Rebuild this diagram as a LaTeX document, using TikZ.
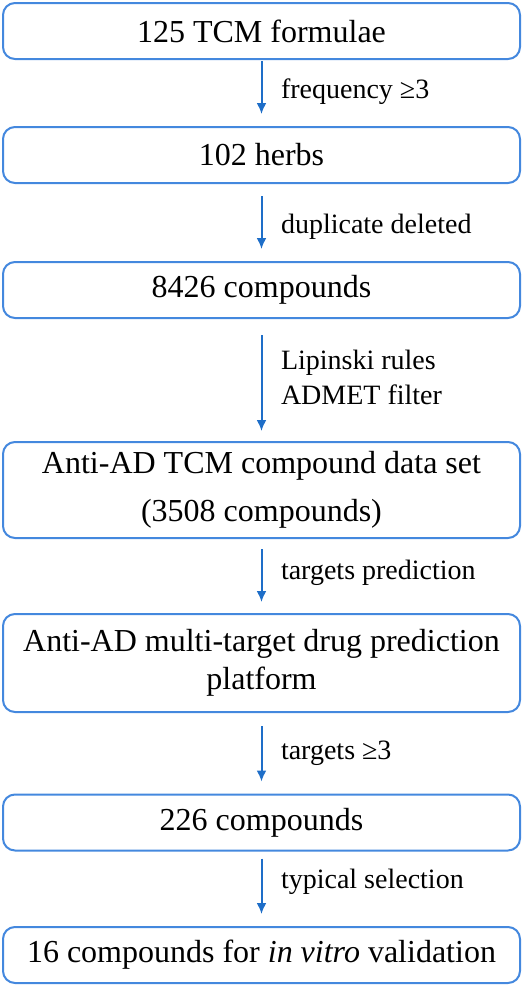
\documentclass[tikz,border=0pt]{standalone}
\usepackage{fontspec}
\setmainfont{LiberationSerif-Regular.ttf}[ItalicFont=LiberationSerif-Italic.ttf,
 BoldFont=LiberationSerif-Bold.ttf]
\usetikzlibrary{arrows.meta}
\definecolor{boxblue}{RGB}{68,136,222}
\definecolor{arrowblue}{RGB}{30,110,200}
\begin{document}
\begin{tikzpicture}[x=.5pt,y=-.5pt,line width=1pt,>={Latex[length=5.5pt,width=5pt]},
 font=\fontsize{16}{19}\selectfont,
 stagebox/.style={draw=boxblue,rounded corners=6pt,minimum width=258.5pt,
  minimum height=28pt,align=center,inner sep=0pt},
 flow/.style={->,draw=arrowblue,line width=1pt},
 steplabel/.style={anchor=west,inner sep=0pt,align=left,
  font=\fontsize{14}{17.5}\selectfont}]
\useasboundingbox (0,0) rectangle (526,986);
% screening stages, top to bottom
\node[stagebox] (formulae) at (261.5,31) {125 TCM formulae};
\node[stagebox] (herbs) at (261.5,155) {102 herbs};
\node[stagebox] (compounds) at (261.5,290) {8426 compounds};
\node[stagebox,minimum height=48pt] (dataset) at (261.5,490)
 {Anti-AD TCM compound data set\\[5pt](3508 compounds)};
\node[stagebox,minimum height=49pt] (platform) at (261.5,663)
 {Anti-AD multi-target drug prediction\\platform};
\node[stagebox] (selected) at (261.5,822.5) {226 compounds};
\node[stagebox] (validation) at (261.5,955)
 {16 compounds for \textit{in vitro} validation};
% filtering steps
\draw[flow,shorten <=.5pt,shorten >=6pt] (formulae.south) -- (herbs.north);
\node[steplabel] (freq) at (280,92) {frequency ≥3};
\draw[flow,shorten <=6pt,shorten >=6pt] (herbs.south) -- (compounds.north);
\node[steplabel] (dedup) at (280,227) {duplicate deleted};
\draw[flow,shorten <=8pt,shorten >=5pt] (compounds.south) -- (dataset.north);
\node[steplabel] (lipinski) at (280,377) {Lipinski rules\\ADMET filter};
\draw[flow,shorten <=5pt,shorten >=5.5pt] (dataset.south) -- (platform.north);
\node[steplabel] (predict) at (280,573) {targets prediction};
\draw[flow,shorten <=6.5pt,shorten >=6pt] (platform.south) -- (selected.north);
\node[steplabel] (targets) at (280,753) {targets ≥3};
\draw[flow,shorten <=3.5pt,shorten >=6pt] (selected.south) -- (validation.north);
\node[steplabel] (typical) at (280,882) {typical selection};
\end{tikzpicture}
\end{document}
